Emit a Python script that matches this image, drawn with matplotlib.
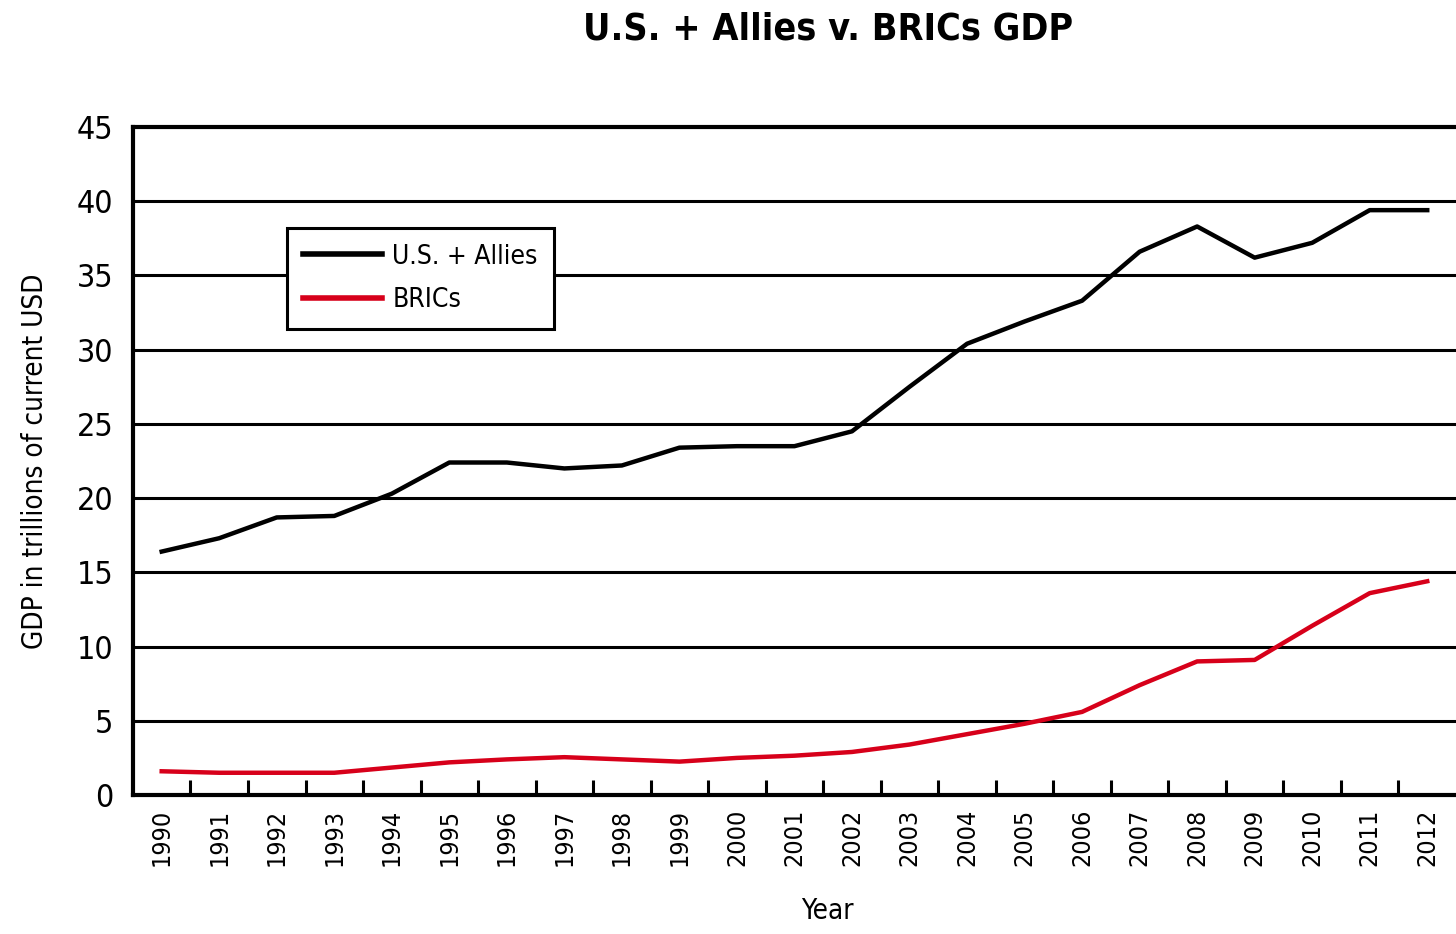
import numpy as np
import matplotlib
matplotlib.use("Agg")
import matplotlib.pyplot as plt

plt.rcParams['font.family'] = ['DejaVu Sans']
plt.rcParams['font.stretch'] = 'condensed'

years = [str(y) for y in range(1990, 2013)]
us_allies = [16.4, 17.3, 18.7, 18.8, 20.3, 22.4, 22.4, 22.0, 22.2, 23.4, 23.5, 23.5,
             24.5, 27.5, 30.4, 31.9, 33.3, 36.6, 38.3, 36.2, 37.2, 39.4, 39.4]
brics = [1.6, 1.5, 1.5, 1.5, 1.85, 2.2, 2.4, 2.55, 2.4, 2.25, 2.5, 2.65,
         2.9, 3.4, 4.1, 4.8, 5.6, 7.4, 9.0, 9.1, 11.4, 13.6, 14.4]
yticks = list(range(0, 50, 5))

fig = plt.figure(figsize=(14.56, 9.34), dpi=100)
ax = fig.add_axes([0.0913, 0.1488, 0.9087, 0.7152])

x = np.arange(len(years))
for v in yticks[1:-1]:
    ax.axhline(v, color='black', lw=2.2, zorder=1)
ax.plot(x, us_allies, color='black', lw=3.2, label='U.S. + Allies', zorder=3)
ax.plot(x, brics, color='#d7001a', lw=3.2, label='BRICs', zorder=3)

ax.set_xlim(-0.5, len(years) - 0.5)
ax.set_ylim(0, 45)
ax.set_yticks(yticks)
ax.set_yticklabels([str(v) for v in yticks], fontsize=23)
ax.tick_params(axis='y', length=0, pad=14)
ax.set_xticks(x)
ax.set_xticklabels(years, rotation=90, fontsize=18)
ax.tick_params(axis='x', which='major', length=0, pad=10)
ax.set_xticks(x[:-1] + 0.5, minor=True)
ax.tick_params(axis='x', which='minor', direction='in', length=11, width=2.2)

for s in ax.spines.values():
    s.set_linewidth(3)
ax.spines['right'].set_visible(False)

ax.set_ylabel('GDP in trillions of current USD', fontsize=20, labelpad=20)
ax.set_xlabel('Year', fontsize=20, labelpad=22)
ax.xaxis.label.set_x(0.525)
fig.text(0.569, 0.968, 'U.S. + Allies v. BRICs GDP', ha='center', va='center',
         fontsize=27, fontweight='bold')

leg = ax.legend(loc='upper left', bbox_to_anchor=(0.1164, 0.849), borderaxespad=0,
                fontsize=19, handlelength=3.0, handletextpad=0.4, labelspacing=0.65,
                borderpad=0.6, fancybox=False, framealpha=1, edgecolor='black')
leg.get_frame().set_linewidth(2.2)
for line in leg.get_lines():
    line.set_linewidth(4)
leg.set_zorder(5)

fig.savefig('out.png', dpi=100)
